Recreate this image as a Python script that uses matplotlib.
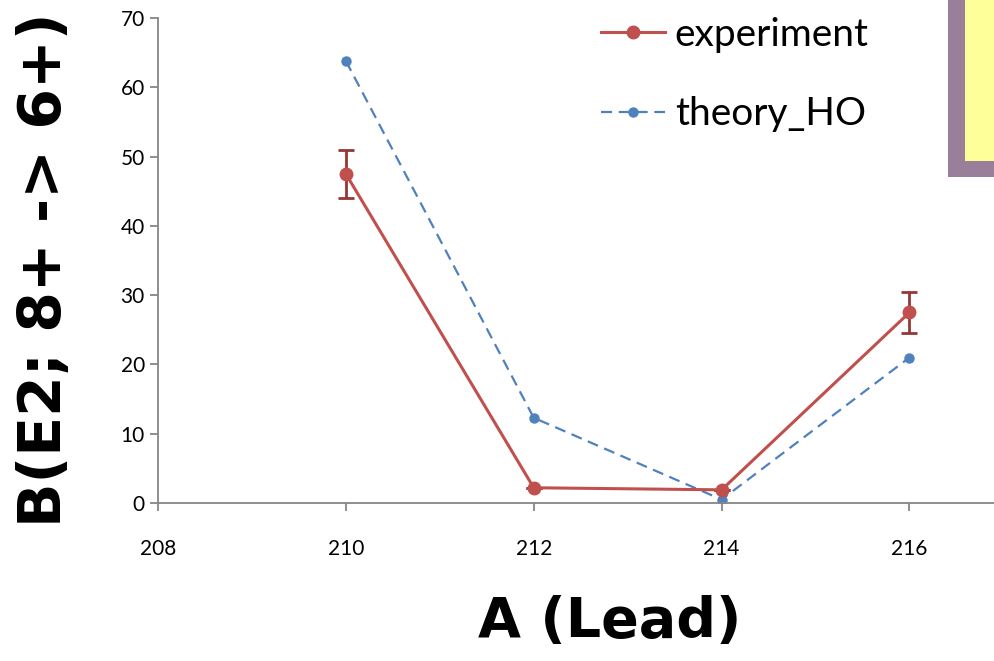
import matplotlib
matplotlib.use("Agg")
import matplotlib.pyplot as plt
from matplotlib.lines import Line2D
from matplotlib.patches import Rectangle

# B(E2; 8+ -> 6+) values for lead isotopes
mass_number = [210, 212, 214, 216]
experiment = [47.5, 2.2, 1.9, 27.5]
experiment_err = [3.5, 0.0, 0.0, 3.0]
theory_ho = [63.8, 12.3, 0.5, 21.0]

red = "#C0504D"
blue = "#4F81BD"
grey = "#868686"
dash = (0, (5, 3))

fig = plt.figure(figsize=(9.94, 6.61), dpi=100)
ax = fig.add_axes([158 / 994, 1 - 503 / 661, 1 - 158 / 994, (503 - 18) / 661])

ax.errorbar(mass_number, experiment, yerr=experiment_err, color=red, lw=2.2,
            marker="o", ms=9, ecolor="#953735", elinewidth=2, capsize=6,
            capthick=2, zorder=3)
ax.plot(mass_number, theory_ho, color=blue, lw=1.6, ls=dash,
        marker="o", ms=6.5, zorder=2)

ax.set_xlim(208, 216.9)
ax.set_ylim(0, 70)
ax.set_xticks([208, 210, 212, 214, 216])
ax.set_yticks(range(0, 71, 10))

for side in ["top", "right"]:
    ax.spines[side].set_visible(False)
for side in ["left", "bottom"]:
    ax.spines[side].set_color(grey)
    ax.spines[side].set_linewidth(1.3)
ax.tick_params(axis="both", colors=grey, length=6, width=1.3,
               labelcolor="black", labelsize=15)
ax.tick_params(axis="x", pad=20)
for lbl in ax.get_xticklabels() + ax.get_yticklabels():
    lbl.set_family("Lato")

handles = [
    Line2D([], [], color=red, lw=2.2, marker="o", ms=9),
    Line2D([], [], color=blue, lw=1.6, ls=dash, marker="o", ms=6.5),
]
ax.legend(handles, ["experiment", "theory_HO"], loc="upper left",
          bbox_to_anchor=(0.488, 1.075), frameon=False, handlelength=1.65,
          labelspacing=1.12, handletextpad=0.25,
          prop={"family": "Lato", "size": 28})

# highlighted box at the top right corner
fig.patches.append(Rectangle((948 / 994, 1 - 177 / 661), 0.1, 0.3,
                             transform=fig.transFigure, facecolor="#9A7F9A",
                             edgecolor="none"))
fig.patches.append(Rectangle((965 / 994, 1 - 161 / 661), 0.1, 0.3,
                             transform=fig.transFigure, facecolor="#FFFF99",
                             edgecolor="none"))

fig.text(45 / 994, 1 - 270 / 661, "B(E2; 8+ -> 6+)", rotation=90, ha="center",
         va="center", fontsize=42, fontweight="bold")
fig.text(610 / 994, 1 - 622 / 661, "A (Lead)", ha="center", va="center",
         fontsize=40, fontweight="bold")

fig.savefig("out.png", dpi=100)
